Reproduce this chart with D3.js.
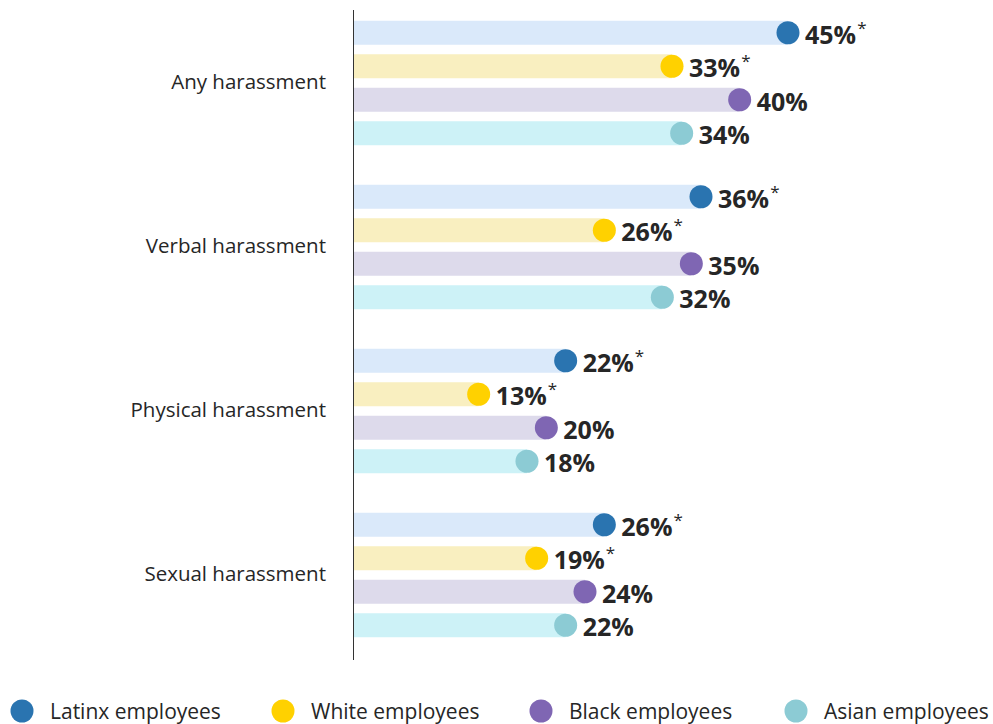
<!DOCTYPE html>
<html>
<head>
<meta charset="utf-8">
<script src="https://cdn.jsdelivr.net/npm/d3@7"></script>
<style>
  body { margin: 0; background: #fff; }
  text { font-family: "Open Sans", sans-serif; fill: #262626; }
</style>
</head>
<body>
<svg id="chart" width="993" height="724"></svg>
<script>
const categories = ["Any harassment", "Verbal harassment", "Physical harassment", "Sexual harassment"];
const series = ["Latinx employees", "White employees", "Black employees", "Asian employees"];
const latinx = [45, 36, 22, 26];
const white = [33, 26, 13, 19];
const black = [40, 35, 20, 24];
const asian = [34, 32, 18, 22];
// significance markers (asterisk)
const latinxSig = [true, true, true, true];
const whiteSig = [true, true, true, true];

const dotColors = ["#2a74b0", "#ffd100", "#7f66b3", "#8ccbd4"];
const barColors = ["#dae9fa", "#f9efc0", "#dddaeb", "#cdf2f7"];

const values = [latinx, white, black, asian];
const sigs = [latinxSig, whiteSig, [false, false, false, false], [false, false, false, false]];

const svg = d3.select("#chart");

const x = d3.scaleLinear().domain([0, 45]).range([353, 788]);
const yGroup = d3.scaleBand().domain(categories).range([0, 656]);
const yInner = d3.scaleBand().domain(series).range([16, 150]);

const barH = 24;

// axis line
svg.append("line")
  .attr("x1", 353.5).attr("x2", 353.5)
  .attr("y1", 10).attr("y2", 660)
  .attr("stroke", "#333").attr("stroke-width", 1);

categories.forEach((cat, ci) => {
  const g = svg.append("g").attr("transform", "translate(0," + yGroup(cat) + ")");

  g.append("text")
    .attr("x", 326)
    .attr("y", yGroup.bandwidth() / 2 + 2)
    .attr("text-anchor", "end")
    .attr("dominant-baseline", "middle")
    .style("font-size", "20.5px")
    .text(cat);

  series.forEach((s, si) => {
    const v = values[si][ci];
    const cy = yInner(s) + yInner.bandwidth() / 2;
    g.append("rect")
      .attr("x", x(0) + 1)
      .attr("y", cy - barH / 2)
      .attr("width", x(v) - x(0) - 1)
      .attr("height", barH)
      .attr("fill", barColors[si]);
    g.append("circle")
      .attr("cx", x(v))
      .attr("cy", cy)
      .attr("r", 11.5)
      .attr("fill", dotColors[si]);
    const t = g.append("text")
      .attr("x", x(v) + 17)
      .attr("y", cy + 1)
      .attr("dominant-baseline", "central")
      .style("font-size", "25px")
      .style("font-weight", "700");
    t.append("tspan").text(v + "%");
    if (sigs[si][ci]) {
      t.append("tspan")
        .attr("dy", -7)
        .attr("dx", 1)
        .style("font-size", "17px")
        .style("font-weight", "400")
        .text("*");
    }
  });
});

// legend
const legendX = [22, 283, 541, 796];
series.forEach((s, si) => {
  svg.append("circle")
    .attr("cx", legendX[si])
    .attr("cy", 711)
    .attr("r", 11.5)
    .attr("fill", dotColors[si]);
  svg.append("text")
    .attr("x", legendX[si] + 28)
    .attr("y", 713)
    .attr("dominant-baseline", "middle")
    .style("font-size", "21px")
    .text(s);
});
</script>
</body>
</html>
